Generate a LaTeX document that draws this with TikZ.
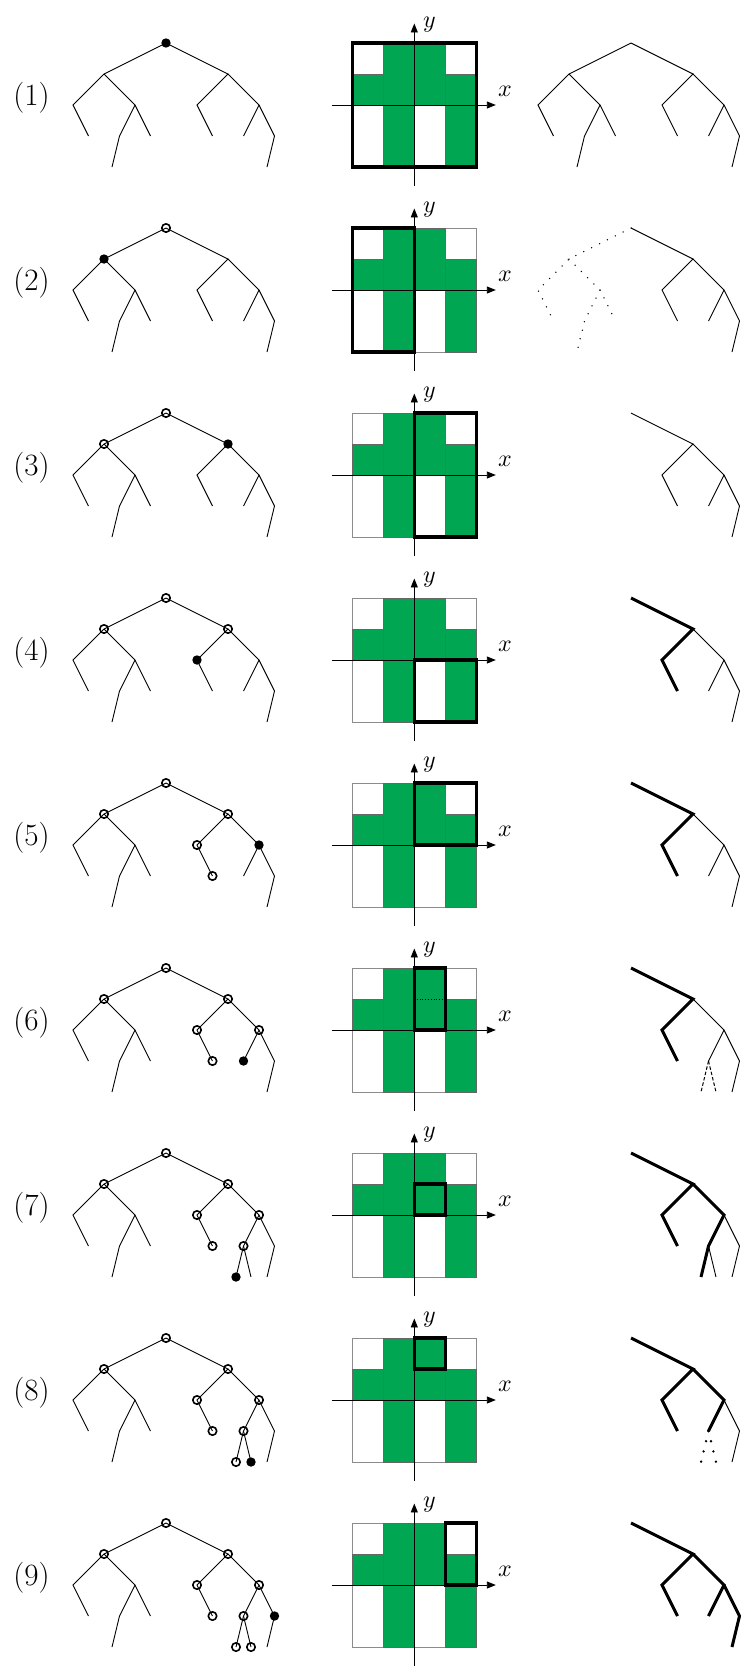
\documentclass[tikz,border=0pt]{standalone}
\usepackage{unicode-math}
\usetikzlibrary{arrows.meta}
\definecolor{grn}{RGB}{0,166,81}
\tikzset{
 tline/.style={line width=0.9pt},
 thk/.style={line width=3pt, line join=miter},
 dotl/.style={line width=1.5pt, line cap=round, dash pattern=on 0pt off 8.8pt},
 dotw/.style={line width=2.6pt, line cap=round, dash pattern=on 0pt off 10.5pt},
 dashl/.style={line width=1pt, dash pattern=on 3.5pt off 2pt},
 openc/.style={circle, draw, line width=1.6pt, minimum size=8.4pt, inner sep=0pt},
 fillc/.style={circle, fill, minimum size=9.4pt, inner sep=0pt},
 wcell/.style={draw=black!45, line width=0.8pt, fill=white},
 gcell/.style={draw=black!60, line width=0.8pt, fill=grn},
 hlbox/.style={line width=3.5pt, line join=miter},
 axisl/.style={line width=0.9pt, -{Triangle[length=9pt,width=7pt]}},
 plabel/.style={font=\fontsize{31}{32}\selectfont, inner sep=0pt},
 alabel/.style={font=\fontsize{24}{26}\selectfont, inner sep=0pt},
}
\newcommand\deftree[3]{%
 \begin{scope}[shift={(#2,#3)}]
 \coordinate (#1r) at (166,43);
 \coordinate (#1A) at (104,74);
 \coordinate (#1B) at (228,74);
 \coordinate (#1Aa) at (73,105);
 \coordinate (#1Ab) at (135,105);
 \coordinate (#1Ba) at (197,105);
 \coordinate (#1Bb) at (259,105);
 \coordinate (#1Aac) at (88.5,136);
 \coordinate (#1Aba) at (119.5,136);
 \coordinate (#1Abb) at (150.5,136);
 \coordinate (#1Bac) at (212.5,136);
 \coordinate (#1Bba) at (243.5,136);
 \coordinate (#1Bbb) at (274.5,136);
 \coordinate (#1Abaa) at (112,167);
 \coordinate (#1Bbbb) at (267,167);
 \coordinate (#1Bbaa) at (236,167);
 \coordinate (#1Bbab) at (251,167);
 \end{scope}}
\newcommand\leftpart[2]{%
 \draw[#2] (#1r) -- (#1A) -- (#1Aa) -- (#1Aac);
 \draw[#2] (#1A) -- (#1Ab) -- (#1Aba) -- (#1Abaa);
 \draw[#2] (#1Ab) -- (#1Abb);}
\newcommand\rightpart[2]{%
 \draw[#2] (#1r) -- (#1B) -- (#1Ba) -- (#1Bac);
 \draw[#2] (#1B) -- (#1Bb) -- (#1Bba);
 \draw[#2] (#1Bb) -- (#1Bbb) -- (#1Bbbb);}
\newcommand\extrapart[2]{%
 \draw[#2] (#1Bba) -- (#1Bbaa);
 \draw[#2] (#1Bba) -- (#1Bbab);}
\newcommand\opn[1]{\node[openc] (o#1) at (#1) {};}
\newcommand\fld[1]{\node[fillc] (f#1) at (#1) {};}
\begin{document}
\begin{tikzpicture}[x=1pt,y=-1pt]
\useasboundingbox (0,0) rectangle (740,1666);
\foreach \k/\a/\b/\c/\d in {1/-2/-2/2/2, 2/-2/-2/0/2, 3/0/-2/2/2, 4/0/-2/2/0, 5/0/0/2/2, 6/0/0/1/2, 7/0/0/1/1, 8/0/1/1/2, 9/1/0/2/2}{
 \pgfmathsetmacro\yo{185*(\k-1)}
 % panel label
 \node[plabel] (lab\k) at (31.5,97.5+\yo) {(\k)};
 % left tree
 \deftree{L\k}{0}{\yo}
 \deftree{R\k}{465}{\yo}
 \leftpart{L\k}{tline}
 \rightpart{L\k}{tline}
 % grid
 \begin{scope}[shift={(414.3,105+\yo)}, x=31pt, y=31pt]
  \draw[wcell] (-2,1) rectangle (-1,2);
  \draw[wcell] (-2,-2) rectangle (-1,0);
  \draw[wcell] (0,-2) rectangle (1,0);
  \draw[wcell] (1,1) rectangle (2,2);
  \draw[gcell] (-2,0) rectangle (-1,1);
  \draw[gcell] (-1,-2) rectangle (0,2);
  \draw[gcell] (0,0) rectangle (1,2);
  \draw[gcell] (1,0) rectangle (2,1);
  \draw[gcell] (1,-2) rectangle (2,0);
  \draw[hlbox] (\a,\b) rectangle (\c,\d);
  \coordinate (xs\k) at (-2.66,0);
  \coordinate (xe\k) at (2.63,0);
  \coordinate (ys\k) at (0,-2.6);
  \coordinate (ye\k) at (0,2.63);
  \draw[axisl] (xs\k) -- (xe\k);
  \draw[axisl] (ys\k) -- (ye\k);
  \node[alabel] (xl\k) at (2.93,0.45) {$x$};
  \node[alabel] (yl\k) at (0.5,2.58) {$y$};
 \end{scope}
}
% grid extra: dotted split in panel 6
\begin{scope}[shift={(414.3,105+925)}, x=31pt, y=31pt]
 \coordinate (d6a) at (0.08,1);
 \coordinate (d6b) at (0.92,1);
 \draw[line width=0.8pt, dotted] (d6a) -- (d6b);
\end{scope}
% extra leaves in left trees 7-9
\extrapart{L7}{tline}
\extrapart{L8}{tline}
\extrapart{L9}{tline}
% markers, left column
\fld{L1r}
\opn{L2r} \fld{L2A}
\opn{L3r} \opn{L3A} \fld{L3B}
\opn{L4r} \opn{L4A} \opn{L4B} \fld{L4Ba}
\opn{L5r} \opn{L5A} \opn{L5B} \opn{L5Ba} \opn{L5Bac} \fld{L5Bb}
\opn{L6r} \opn{L6A} \opn{L6B} \opn{L6Ba} \opn{L6Bac} \opn{L6Bb} \fld{L6Bba}
\opn{L7r} \opn{L7A} \opn{L7B} \opn{L7Ba} \opn{L7Bac} \opn{L7Bb} \opn{L7Bba} \fld{L7Bbaa}
\opn{L8r} \opn{L8A} \opn{L8B} \opn{L8Ba} \opn{L8Bac} \opn{L8Bb} \opn{L8Bba} \opn{L8Bbaa} \fld{L8Bbab}
\opn{L9r} \opn{L9A} \opn{L9B} \opn{L9Ba} \opn{L9Bac} \opn{L9Bb} \opn{L9Bba} \opn{L9Bbaa} \opn{L9Bbab} \fld{L9Bbb}
% right column
\leftpart{R1}{tline} \rightpart{R1}{tline}
\leftpart{R2}{dotl} \rightpart{R2}{tline}
\rightpart{R3}{tline}
\foreach \k in {4,5,6}{
 \draw[thk] (R\k r) -- (R\k B) -- (R\k Ba) -- (R\k Bac);
 \draw[tline] (R\k B) -- (R\k Bb) -- (R\k Bba);
 \draw[tline] (R\k Bb) -- (R\k Bbb) -- (R\k Bbbb);
}
\extrapart{R6}{dashl}
\draw[thk] (R7r) -- (R7B) -- (R7Ba) -- (R7Bac);
\draw[thk] (R7B) -- (R7Bb) -- (R7Bba) -- (R7Bbaa);
\draw[tline] (R7Bba) -- (R7Bbab);
\draw[tline] (R7Bb) -- (R7Bbb) -- (R7Bbbb);
\draw[thk] (R8r) -- (R8B) -- (R8Ba) -- (R8Bac);
\draw[thk] (R8B) -- (R8Bb) -- (R8Bba);
\extrapart{R8}{dotw}
\draw[tline] (R8Bb) -- (R8Bbb) -- (R8Bbbb);
\draw[thk] (R9r) -- (R9B) -- (R9Ba) -- (R9Bac);
\draw[thk] (R9B) -- (R9Bb) -- (R9Bba);
\draw[thk] (R9Bb) -- (R9Bbb) -- (R9Bbbb);
\end{tikzpicture}
\end{document}
